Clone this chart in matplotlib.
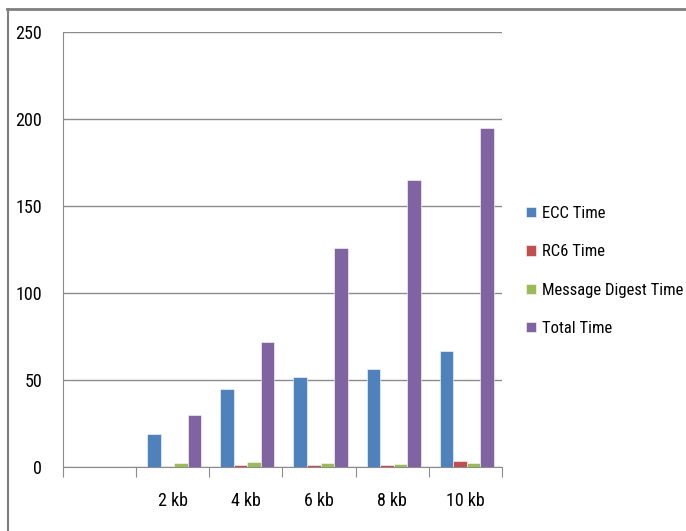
import matplotlib
matplotlib.use("Agg")
import matplotlib.pyplot as plt
import numpy as np
from matplotlib.lines import Line2D

plt.rcParams["font.family"] = ["Roboto Condensed", "Liberation Sans", "DejaVu Sans"]

categories = ["", "2 kb", "4 kb", "6 kb", "8 kb", "10 kb"]
ecc_time = [0, 19, 45, 52, 56.5, 66.5]
rc6_time = [0, 0, 1.2, 1.2, 1.0, 3.5]
digest_time = [0, 2.5, 3.0, 2.5, 2.0, 2.5]
total_time = [0, 30, 72, 126, 165, 195]

series = [
    ("ECC Time", ecc_time, "#4F81BD"),
    ("RC6 Time", rc6_time, "#C0504D"),
    ("Message Digest Time", digest_time, "#9BBB59"),
    ("Total Time", total_time, "#8064A2"),
]

fig = plt.figure(figsize=(6.86, 5.31), dpi=100)
ax = fig.add_axes([63 / 686, 64 / 531, 439 / 686, 435 / 531])

x = np.arange(len(categories))
w = 0.185
for i, (name, vals, color) in enumerate(series):
    ax.bar(x + (i - 1.5) * w + 0.02, vals, w, color=color, label=name,
           edgecolor="white", linewidth=0.4, zorder=3)

ax.set_xlim(-0.5, len(categories) - 0.5)
ax.set_ylim(0, 250)
ax.set_yticks(range(0, 251, 50))
ax.yaxis.grid(True, color="#8c8c8c", linewidth=1.0, zorder=0)
ax.tick_params(axis="y", length=0, pad=15, labelsize=13)

# category boundaries as major ticks, labels on minor ticks at centres
ax.set_xticks(np.arange(-0.5, len(categories)))
ax.set_xticklabels([])
ax.set_xticks(x, minor=True)
ax.set_xticklabels(categories, minor=True)
ax.tick_params(axis="x", which="major", length=7, color="#8c8c8c", direction="out")
ax.tick_params(axis="x", which="minor", length=0, pad=18, labelsize=13)

for side in ("top", "right"):
    ax.spines[side].set_visible(False)
ax.spines["left"].set_color("#8c8c8c")
ax.spines["bottom"].set_color("#8c8c8c")

fig.legend(loc="center left", bbox_to_anchor=(526 / 686, 1 - 271 / 531),
           frameon=False, fontsize=12, handlelength=0.6, handleheight=0.6,
           handletextpad=0.35, labelspacing=1.4, borderpad=0, borderaxespad=0)

# outer chart border (top and left edges visible)
fig.add_artist(Line2D([7 / 686, 1.0], [1 - 8.5 / 531, 1 - 8.5 / 531],
                      transform=fig.transFigure, color="#7f7f7f", linewidth=2))
fig.add_artist(Line2D([7.5 / 686, 7.5 / 686], [0, 1 - 8.5 / 531],
                      transform=fig.transFigure, color="#7f7f7f", linewidth=1.5))

fig.savefig("out.png", dpi=100)
